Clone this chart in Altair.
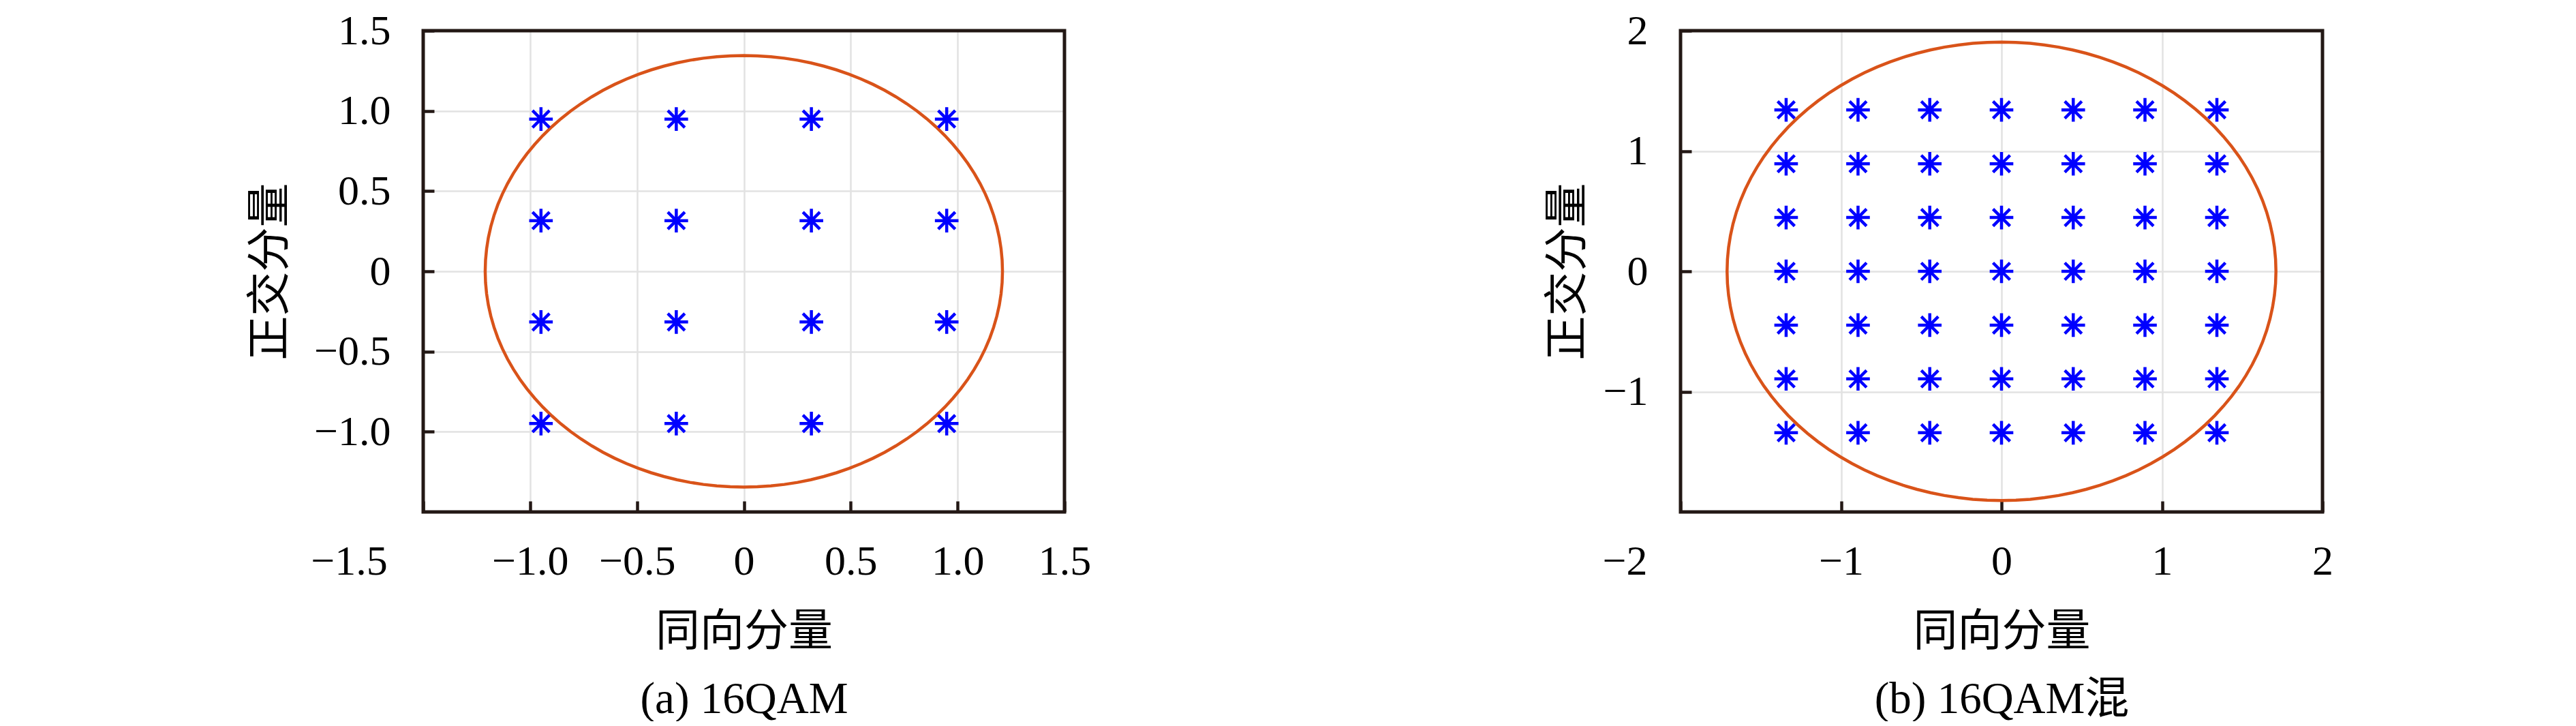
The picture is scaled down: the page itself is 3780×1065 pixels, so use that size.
import itertools
import altair as alt
import pandas as pd

# ---- data ----
qam16_levels = [-0.949, -0.316, 0.316, 0.949]          # panel (a) I/Q levels
mix_levels = [-1.342, -0.894, -0.447, 0.0, 0.447, 0.894, 1.342]  # panel (b) I/Q levels
ellipse_a = [1.21, 1.71]     # semi-axis along I for (a), (b)
ellipse_b = [1.345, 1.905]   # semi-axis along Q for (a), (b)
domains = [[-1.5, 1.5], [-2.0, 2.0]]
x_label_values = [[-1.5, -1.0, -0.5, 0.0, 0.5, 1.0, 1.5], [-2, -1, 0, 1, 2]]
y_label_values = [[-1.0, -0.5, 0.0, 0.5, 1.0, 1.5], [-1, 0, 1, 2]]
captions = ["(a) 16QAM", "(b) 16QAM混"]
x_title = "同向分量"
y_title = "正交分量"

SERIF = "Liberation Serif"
MIXED = "Liberation Serif, Noto Sans CJK SC"
FRAME = "#231815"
ASTERISK = "M0,-1L0,1M-1,0L1,0M-0.72,-0.72L0.72,0.72M-0.72,0.72L0.72,-0.72"
W = [941, 942]
H = 706


def panel(i, levels, label_expr, first_shift, title_x):
    pts = pd.DataFrame(list(itertools.product(levels, levels)), columns=["I", "Q"])
    dom = domains[i]
    xs = alt.Scale(domain=dom, nice=False, zero=False)
    ys = alt.Scale(domain=dom, nice=False, zero=False)
    edge = f"abs(datum.value) == {dom[1]}"
    common = dict(
        grid=True, gridColor="#e2e2e2", gridWidth=2.5,
        gridOpacity={"condition": {"test": edge, "value": 0}, "value": 1},
        domain=False, offset=-16, tickSize=16, tickWidth=4.5, tickColor=FRAME,
        labelFont=SERIF, labelFontSize=62, labelColor="#000000",
        labelFlush=False, labelOverlap=False, labelExpr=label_expr,
        titleFont=MIXED, titleFontSize=65, titleFontWeight="normal",
        titleColor="#000000",
    )
    xaxis = alt.Axis(
        values=x_label_values[i], labelPadding=42,
        labelOffset={"condition": {"test": f"datum.value == {dom[0]}", "value": first_shift}, "value": 0},
        title=[x_title, captions[i]], titleLineHeight=99, titleY=160,
        titleBaseline="top", **common)
    yaxis = alt.Axis(
        values=y_label_values[i], labelPadding=48,
        title=y_title, titleX=title_x, titleY=353, titleBaseline="middle",
        titleAngle=270, **common)

    t = alt.sequence(0, 361, 3, as_="t")
    ell = alt.Chart(t).transform_calculate(
        I=f"{ellipse_a[i]}*cos(datum.t*PI/180)",
        Q=f"{ellipse_b[i]}*sin(datum.t*PI/180)",
    ).mark_line(color="#D95319", strokeWidth=4.5).encode(
        x=alt.X("I:Q", scale=xs, axis=xaxis),
        y=alt.Y("Q:Q", scale=ys, axis=yaxis),
        order="t:Q",
    )
    dots = alt.Chart(pts).mark_point(
        shape=ASTERISK, filled=False, stroke="#0000FF", strokeWidth=4.5,
        size=1200, opacity=1,
    ).encode(
        x=alt.X("I:Q", scale=xs),
        y=alt.Y("Q:Q", scale=ys),
    )
    frame = alt.Chart(pd.DataFrame({"f": [0]})).mark_rect(
        filled=False, stroke=FRAME, strokeWidth=5, fillOpacity=0,
    ).encode(
        x=alt.value(0), x2=alt.value(W[i]), y=alt.value(0), y2=alt.value(H),
    )
    return alt.layer(ell, dots, frame).properties(width=W[i], height=H)


fmt_a = "datum.value == 0 ? '0' : format(datum.value, '.1f')"
fmt_b = "format(datum.value, 'd')"

p1 = panel(0, qam16_levels, fmt_a, -109, -241)
p2 = panel(1, mix_levels, fmt_b, -82, -182)

chart = alt.hconcat(p1, p2, spacing=667).properties(
    padding={"left": 356, "top": 6, "right": 0, "bottom": 0},
    background="white",
).configure_view(stroke=None)

chart.save("out.html", embed_options={"renderer": "svg", "actions": False})
